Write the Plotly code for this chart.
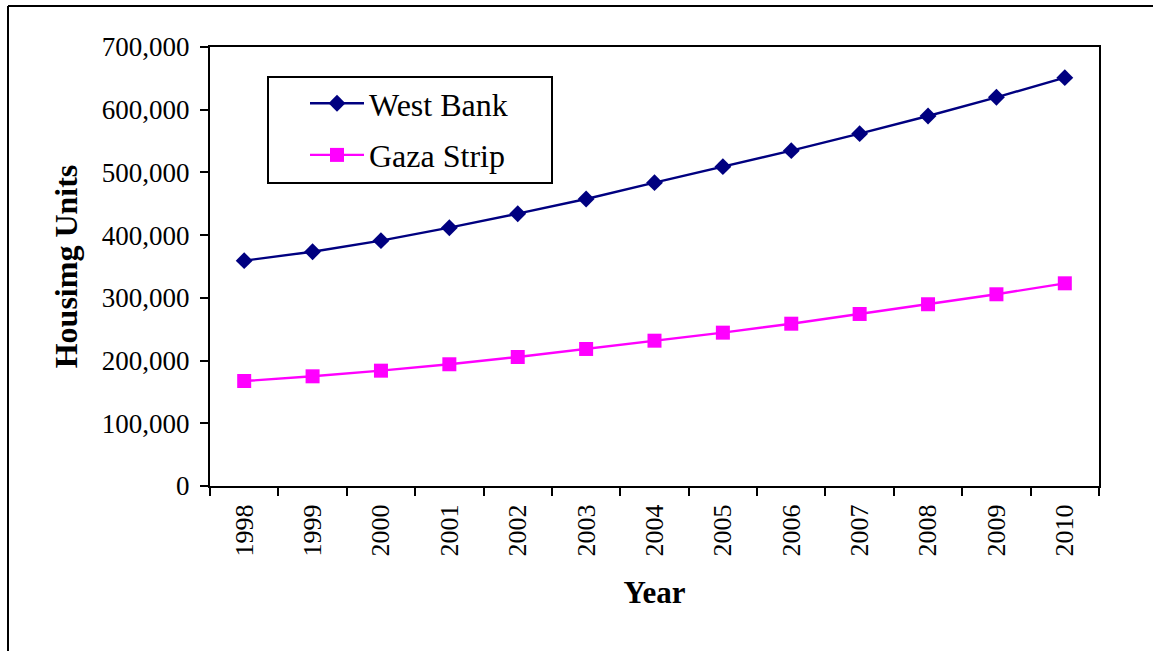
import plotly.graph_objects as go

years = ["1998", "1999", "2000", "2001", "2002", "2003", "2004",
         "2005", "2006", "2007", "2008", "2009", "2010"]
west_bank = [359300, 373600, 391200, 411900, 434200, 457700, 483700,
             509200, 534700, 561800, 590000, 619800, 651100]
gaza_strip = [167400, 174900, 183900, 194100, 205700, 218500, 231700,
              244500, 258800, 274300, 289800, 305700, 323200]
y_ticks = [0, 100000, 200000, 300000, 400000, 500000, 600000, 700000]

FONT = "Liberation Serif, Times New Roman, serif"

fig = go.Figure()
fig.add_trace(go.Scatter(
    x=years, y=west_bank, name="West Bank", mode="lines+markers",
    legendgroup="wb",
    line=dict(color="#000080", width=2.4),
    marker=dict(symbol="diamond", size=13, color="#000080"),
))
fig.add_trace(go.Scatter(
    x=years, y=gaza_strip, name="Gaza Strip", mode="lines+markers",
    legendgroup="gs",
    line=dict(color="#FF00FF", width=2.4),
    marker=dict(symbol="square", size=14, color="#FF00FF"),
))

W, H = 1153, 651
L, R, T, B = 210, 54, 47, 165
pw, ph = W - L - R, H - T - B

def px(x):
    return (x - L) / pw

def py(y):
    return (H - B - y) / ph

fig.update_layout(
    width=W, height=H,
    margin=dict(l=L, r=R, t=T, b=B, autoexpand=False),
    paper_bgcolor="white", plot_bgcolor="white",
    font=dict(family=FONT, color="black"),
    showlegend=True,
    legend=dict(
        x=px(305), y=py(76), xanchor="left", yanchor="top",
        borderwidth=0, bgcolor="rgba(0,0,0,0)",
        itemwidth=54, tracegroupgap=7, traceorder="grouped",
        font=dict(family=FONT, size=32, color="black"),
    ),
    xaxis=dict(
        type="category", tickson="boundaries", range=[-0.5, 12.5],
        showline=True, linecolor="black", linewidth=2, mirror=True,
        ticks="outside", ticklen=8, tickwidth=2, tickcolor="black",
        tickangle=-90, tickfont=dict(family=FONT, size=26),
        ticklabelstandoff=6,
        showgrid=False, zeroline=False,
        title=dict(text="<b>Year</b>", font=dict(family=FONT, size=31), standoff=26),
        automargin=False,
    ),
    yaxis=dict(
        range=[0, 700000], tickvals=y_ticks, tickformat=",",
        showline=True, linecolor="black", linewidth=2, mirror=True,
        ticks="outside", ticklen=8, tickwidth=2, tickcolor="black",
        tickfont=dict(family=FONT, size=27),
        ticklabelstandoff=5,
        showgrid=False, zeroline=False,
        title=dict(text="<b>Housimg Units</b>", font=dict(family=FONT, size=32), standoff=15),
        automargin=False,
    ),
    shapes=[
        dict(type="line", xref="paper", yref="paper",
             x0=px(8), x1=px(8), y0=py(6), y1=py(700),
             line=dict(color="black", width=2)),
        dict(type="line", xref="paper", yref="paper",
             x0=px(8), x1=px(1200), y0=py(6), y1=py(6),
             line=dict(color="black", width=2)),
        dict(type="rect", xref="paper", yref="paper",
             x0=px(268), x1=px(552), y0=py(183), y1=py(77),
             line=dict(color="black", width=2), fillcolor="white", layer="above"),
    ],
)

fig.write_html(
    "out.html",
    config={"displayModeBar": False},
    post_script="document.body.style.margin='0';document.body.style.overflow='hidden';",
)
